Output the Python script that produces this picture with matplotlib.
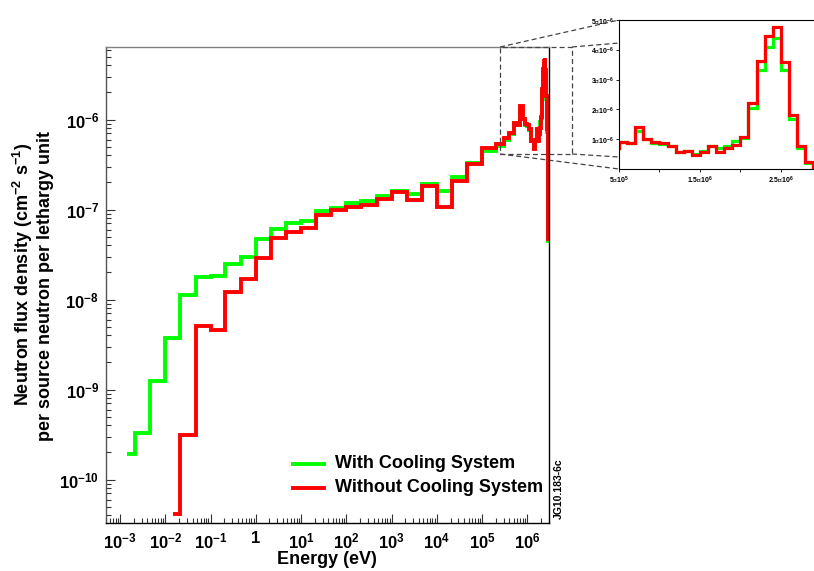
import numpy as np
import matplotlib
matplotlib.use("Agg")
import matplotlib.pyplot as plt
from matplotlib.lines import Line2D
from matplotlib.patches import Rectangle
from matplotlib.ticker import FuncFormatter, LogLocator, FixedLocator

plt.rcParams['font.family'] = ['Liberation Sans', 'DejaVu Sans']
plt.rcParams['font.weight'] = 'bold'
plt.rcParams['mathtext.default'] = 'regular'

# log10(E/eV) bin edges below 0.1 MeV (1/3 decade groups)
log_edges = [-2.84, -2.67, -2.33, -2.0, -1.67, -1.33, -1.0, -0.67, -0.33, 0.0,
             0.33, 0.67, 1.0, 1.33, 1.67, 2.0, 2.33, 2.67, 3.0, 3.33, 3.67,
             4.0, 4.33, 4.67]
red_first_edge = -1.83
# linear 0.1 MeV groups above 0.1 MeV
mev_edges = [0.1, 0.2, 0.3, 0.4, 0.5, 0.6, 0.7, 0.8, 0.9, 1.0, 1.1, 1.2, 1.3,
             1.4, 1.5, 1.6, 1.7, 1.8, 1.9, 2.0, 2.1, 2.2, 2.3, 2.4, 2.5, 2.6,
             2.7, 2.8, 2.9, 3.0]

green_low = [1.91e-10, 3.26e-10, 1.25e-9, 3.71e-9, 1.12e-8, 1.77e-8, 1.82e-8,
             2.46e-8, 2.99e-8, 4.70e-8, 6.07e-8, 7.03e-8, 7.51e-8, 9.71e-8,
             1.03e-7, 1.17e-7, 1.25e-7, 1.41e-7, 1.61e-7, 1.48e-7, 1.91e-7,
             1.61e-7, 2.31e-7, 3.26e-7]
red_low = [4.10e-11, 3.12e-10, 5.12e-9, 4.58e-9, 1.20e-8, 1.69e-8, 2.87e-8,
           4.79e-8, 5.70e-8, 6.28e-8, 8.69e-8, 1.00e-7, 1.06e-7, 1.12e-7,
           1.30e-7, 1.58e-7, 1.28e-7, 1.84e-7, 1.07e-7, 2.09e-7, 3.21e-7]

# values in units of 1e-6
green_fast = [0.45, 0.51, 0.60, 0.69, 0.91, 0.86, 1.26, 1.02, 0.88, 0.85, 0.77,
              0.58, 0.60, 0.49, 0.59, 0.76, 0.69, 0.78, 0.94, 1.05, 2.06, 3.31,
              4.11, 4.39, 3.31, 1.69, 0.72, 0.20, 0.045]
red_fast = [0.48, 0.536, 0.62, 0.70, 0.91, 0.86, 1.42, 1.02, 0.89, 0.86, 0.78,
            0.58, 0.60, 0.47, 0.58, 0.78, 0.58, 0.69, 0.81, 1.06, 2.20, 3.64,
            4.47, 4.78, 3.59, 1.81, 0.78, 0.22, 0.047]

x_decades = [-3, -2, -1, 0, 1, 2, 3, 4, 5, 6]
y_decades = [-10, -9, -8, -7, -6]
labels = ['With Cooling System', 'Without Cooling System']
green = '#00ff00'
red = '#ff0000'

W, H = 814, 571
fig = plt.figure(figsize=(W / 100, H / 100), dpi=100)


def fx(px):
    return px / W


def fy(py):
    return 1 - py / H


fast_e = np.array(mev_edges) * 1e6
g_edges = np.concatenate([10 ** np.array(log_edges), fast_e])
r_edges = np.concatenate([10 ** np.array([red_first_edge] + log_edges[4:]), fast_e])
g_vals = np.concatenate([green_low, np.array(green_fast) * 1e-6])
r_vals = np.concatenate([red_low, np.array(red_fast) * 1e-6])

ax = fig.add_axes([fx(106), fy(523), fx(549 - 106), (523 - 47) / H])
ax.stairs(g_vals, g_edges, baseline=None, color=green, lw=2.8)
ax.stairs(r_vals, r_edges, baseline=None, color=red, lw=2.8)
ax.set_xscale('log')
ax.set_yscale('log')
ax.set_xlim(10 ** -3.31, 3e6)
ax.set_ylim(3.29e-11, 6.4e-6)

ax.xaxis.set_major_locator(FixedLocator([10.0 ** d for d in x_decades]))
ax.xaxis.set_minor_locator(LogLocator(base=10, subs=np.arange(2, 10), numticks=20))
ax.yaxis.set_major_locator(FixedLocator([10.0 ** d for d in y_decades]))
ax.yaxis.set_minor_locator(LogLocator(base=10, subs=np.arange(2, 10), numticks=20))


def pow_fmt(v, pos):
    e = int(round(np.log10(v)))
    if e == 0:
        return '1'
    return r'$10^{%d}$' % e


ax.xaxis.set_major_formatter(FuncFormatter(pow_fmt))
ax.yaxis.set_major_formatter(FuncFormatter(pow_fmt))
ax.tick_params(which='both', direction='in', top=False, right=False,
               labelsize=12, color='#333333')
ax.tick_params(which='major', length=6.5, width=0.8)
ax.tick_params(which='minor', length=3.6, width=0.8)
ax.tick_params(axis='x', pad=6)
ax.tick_params(axis='y', pad=5)
ax.spines['top'].set_color('#808080')
ax.spines['left'].set_color('#555555')
for s in ax.spines.values():
    s.set_linewidth(1.0)

fig.text(fx(327), fy(559), 'Energy (eV)', ha='center', va='center', fontsize=13)
fig.text(fx(23), fy(274), r'Neutron flux density (cm$^{-2}$ s$^{-1}$)',
         rotation=90, ha='center', va='center', fontsize=13)
fig.text(fx(46), fy(286), 'per source neutron per lethargy unit',
         rotation=90, ha='center', va='center', fontsize=13)
fig.text(fx(559), fy(489), 'JG10.183-6c', rotation=90, ha='center',
         va='center', fontsize=7.5)

# legend
for yy, c, lab in [(464, green, labels[0]), (488, red, labels[1])]:
    fig.add_artist(Line2D([fx(293), fx(324)], [fy(yy), fy(yy)], color=c, lw=2.8))
    fig.text(fx(335), fy(yy), lab, ha='left', va='center', fontsize=13)

# zoom box and connectors
dash = dict(color='#444444', lw=0.9, linestyle=(0, (4, 2.5)))
fig.add_artist(Rectangle((fx(500), fy(154)), fx(572 - 500), (154 - 47) / H,
                         fill=False, transform=fig.transFigure, **dash))
for (x0, y0), (x1, y1) in [((500, 47), (619, 20)), ((572, 47), (619, 43)),
                           ((500, 154), (619, 169)), ((572, 154), (619, 157))]:
    fig.add_artist(Line2D([fx(x0), fx(x1)], [fy(y0), fy(y1)], **dash))

# inset
ax2 = fig.add_axes([fx(619), fy(169), fx(814 - 619), (169 - 20) / H])
ax2.stairs(np.array(green_fast) * 1e-6, fast_e, baseline=None, color=green, lw=2.3)
ax2.stairs(np.array(red_fast) * 1e-6, fast_e, baseline=None, color=red, lw=2.3)
ax2.set_xlim(5e5, 2.91e6)
ax2.set_ylim(0, 5e-6)
ax2.spines['right'].set_visible(False)
ax2.xaxis.set_major_locator(FixedLocator([5e5, 1.5e6, 2.5e6]))
ax2.xaxis.set_minor_locator(FixedLocator([1e6, 2e6]))
ax2.yaxis.set_major_locator(FixedLocator([1e-6, 2e-6, 3e-6, 4e-6, 5e-6]))


def sci_fmt(v, pos):
    e = int(np.floor(np.log10(v)))
    m = v / 10 ** e
    ms = ('%.1f' % m).rstrip('0').rstrip('.')
    return r'%s$\cdot$10$^{%d}$' % (ms, e)


ax2.xaxis.set_major_formatter(FuncFormatter(sci_fmt))
ax2.yaxis.set_major_formatter(FuncFormatter(sci_fmt))
ax2.tick_params(which='both', direction='out', labelsize=5, pad=1.5)
ax2.tick_params(which='major', length=2.5, width=0.6)
ax2.tick_params(which='minor', length=2, width=0.6)

fig.savefig('out.png', dpi=100)
